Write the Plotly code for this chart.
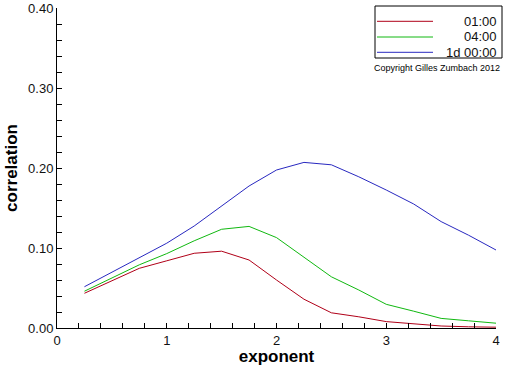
import plotly.graph_objects as go

exponent = [0.25, 0.5, 0.75, 1.0, 1.25, 1.5, 1.75, 2.0, 2.25, 2.5, 2.75, 3.0, 3.25, 3.5, 3.75, 4.0]
corr_0100 = [0.0434, 0.059, 0.0746, 0.084, 0.0934, 0.096, 0.085, 0.060, 0.036, 0.019, 0.014, 0.008, 0.005, 0.0025, 0.0015, 0.001]
corr_0400 = [0.046, 0.0625, 0.079, 0.093, 0.109, 0.1234, 0.127, 0.113, 0.088, 0.064, 0.0475, 0.0296, 0.021, 0.012, 0.009, 0.006]
corr_1d = [0.0516, 0.0695, 0.088, 0.106, 0.1275, 0.1525, 0.1775, 0.1975, 0.207, 0.204, 0.189, 0.1725, 0.155, 0.133, 0.116, 0.0975]
series_names = ["01:00", "04:00", "1d 00:00"]
series_values = [corr_0100, corr_0400, corr_1d]
series_colors = ["#b00018", "#10b810", "#2828c0"]
y_ticks = [0.0, 0.1, 0.2, 0.3, 0.4]
y_tick_labels = ["0.00", "0.10", "0.20", "0.30", "0.40"]
x_ticks = [0, 1, 2, 3, 4]
x_tick_labels = ["0", "1", "2", "3", "4"]

FONT = "Liberation Sans, Arial, sans-serif"

fig = go.Figure()
for name, vals, col in zip(series_names, series_values, series_colors):
    fig.add_trace(go.Scatter(x=exponent, y=vals, mode="lines", name=name,
                             line=dict(color=col, width=1), showlegend=False))

# manual legend box (right-aligned labels as in original)
fig.add_shape(type="rect", xref="paper", yref="paper", x0=0.7244, x1=1.0137,
              y0=0.84375, y1=1.00625, line=dict(color="black", width=1),
              fillcolor="white", layer="above")
leg_y = [(328 - 21.3) / 320, (328 - 37) / 320, (328 - 52.3) / 320]
for name, col, yy in zip(series_names, series_colors, leg_y):
    fig.add_shape(type="line", xref="paper", yref="paper",
                  x0=(377 - 57) / 439, x1=(433 - 57) / 439, y0=yy, y1=yy,
                  line=dict(color=col, width=1), layer="above")
    fig.add_annotation(xref="paper", yref="paper", x=(498.5 - 57) / 439, y=yy,
                       text=name, showarrow=False, xanchor="right", yanchor="middle",
                       font=dict(family=FONT, size=13, color="#111111"))
fig.add_annotation(xref="paper", yref="paper", x=(502.5 - 57) / 439, y=(328 - 68) / 320,
                   text="Copyright Gilles Zumbach 2012", showarrow=False,
                   xanchor="right", yanchor="middle",
                   font=dict(family=FONT, size=9, color="black"))

fig.update_layout(
    width=512, height=366,
    margin=dict(l=57, r=16, t=8, b=38, autoexpand=False),
    paper_bgcolor="white", plot_bgcolor="white",
    font=dict(family=FONT, size=13, color="black"),
    xaxis=dict(range=[0, 4], tickvals=x_ticks, ticktext=x_tick_labels,
               automargin=False,
               showgrid=False, zeroline=False, showline=True, linecolor="black",
               linewidth=1, ticks="inside", ticklen=5, tickcolor="black",
               minor=dict(dtick=0.2, ticks="inside", ticklen=5, tickcolor="black", showgrid=False),
               title=dict(text="exponent", font=dict(family=FONT, size=17, color="black", weight="bold"),
                          standoff=4),
               tickfont=dict(family=FONT, size=13, color="#111111")),
    yaxis=dict(range=[0, 0.4], tickvals=y_ticks, ticktext=y_tick_labels,
               automargin=False,
               showgrid=False, zeroline=False, showline=True, linecolor="black",
               linewidth=1, ticks="inside", ticklen=5, tickcolor="black",
               minor=dict(dtick=0.02, ticks="inside", ticklen=5, tickcolor="black", showgrid=False),
               title=dict(text="correlation", font=dict(family=FONT, size=17, color="black", weight="bold"),
                          standoff=6),
               tickfont=dict(family=FONT, size=13, color="#111111")),
)

fig.write_html("out.html", config={"displayModeBar": False},
               post_script="document.body.style.margin='0';document.body.style.padding='0';document.body.style.overflow='hidden';")
